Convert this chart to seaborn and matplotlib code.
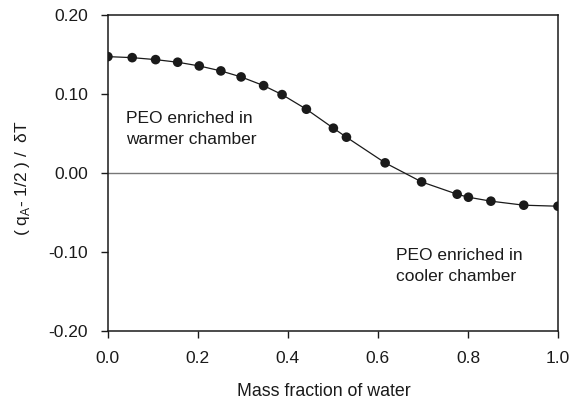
import matplotlib
matplotlib.use("Agg")
import matplotlib.pyplot as plt
import pandas as pd
import seaborn as sns

water_fraction = [0.0, 0.054, 0.106, 0.155, 0.203, 0.251, 0.296, 0.346, 0.387, 0.441,
                  0.501, 0.530, 0.616, 0.697, 0.776, 0.801, 0.851, 0.924, 1.0]
soret = [0.1472, 0.1459, 0.1434, 0.1401, 0.1354, 0.1291, 0.1215, 0.1105, 0.0991, 0.0806,
         0.0566, 0.0452, 0.0127, -0.0114, -0.0270, -0.0308, -0.0358, -0.0409, -0.0422]
x_ticks = [0.0, 0.2, 0.4, 0.6, 0.8, 1.0]
y_ticks = [-0.20, -0.10, 0.00, 0.10, 0.20]

df = pd.DataFrame({"w": water_fraction, "s": soret})

sns.set_style("ticks")
plt.rcParams["font.family"] = ["Liberation Sans", "DejaVu Sans"]
plt.rcParams["mathtext.fontset"] = "custom"
plt.rcParams["mathtext.rm"] = "Liberation Sans"

ink = "#1a1a1a"
fig = plt.figure(figsize=(5.77, 4.03), dpi=100)
ax = fig.add_axes([0.187, 0.179, 0.780, 0.784])

ax.axhline(0, color="#777777", lw=1.0, zorder=1)
sns.lineplot(data=df, x="w", y="s", color=ink, lw=0.9, ax=ax, zorder=2)
sns.scatterplot(data=df, x="w", y="s", color=ink, s=48, edgecolor="none", ax=ax, zorder=3)

ax.set_xlim(0, 1)
ax.set_ylim(-0.2, 0.2)
ax.set_xticks(x_ticks)
ax.set_xticklabels([f"{v:.1f}" for v in x_ticks])
ax.set_yticks(y_ticks)
ax.set_yticklabels([f"{v:.2f}" for v in y_ticks])
ax.tick_params(labelsize=12.5, length=5, width=1, color=ink, labelcolor=ink, pad=9.5)
for sp in ax.spines.values():
    sp.set_visible(True)
    sp.set_linewidth(1.1)
    sp.set_color(ink)

ax.set_xlabel("Mass fraction of water", fontsize=12.8, color=ink)
ax.set_ylabel(r"( q$_\mathregular{A}$- 1/2 ) /  δT", fontsize=12.5, color=ink)
ax.xaxis.set_label_coords(0.479, -0.165)
ax.yaxis.set_label_coords(-0.169, 0.484)

# annotations (baseline positions)
ax.text(0.04, 0.0629, "PEO enriched in", fontsize=12.5, color=ink, va="baseline", ha="left")
ax.text(0.04, 0.0363, "warmer chamber", fontsize=12.5, color=ink, va="baseline", ha="left")
ax.text(0.64, -0.1101, "PEO enriched in", fontsize=12.5, color=ink, va="baseline", ha="left")
ax.text(0.64, -0.1367, "cooler chamber", fontsize=12.5, color=ink, va="baseline", ha="left")

fig.savefig("out.png", dpi=100)
